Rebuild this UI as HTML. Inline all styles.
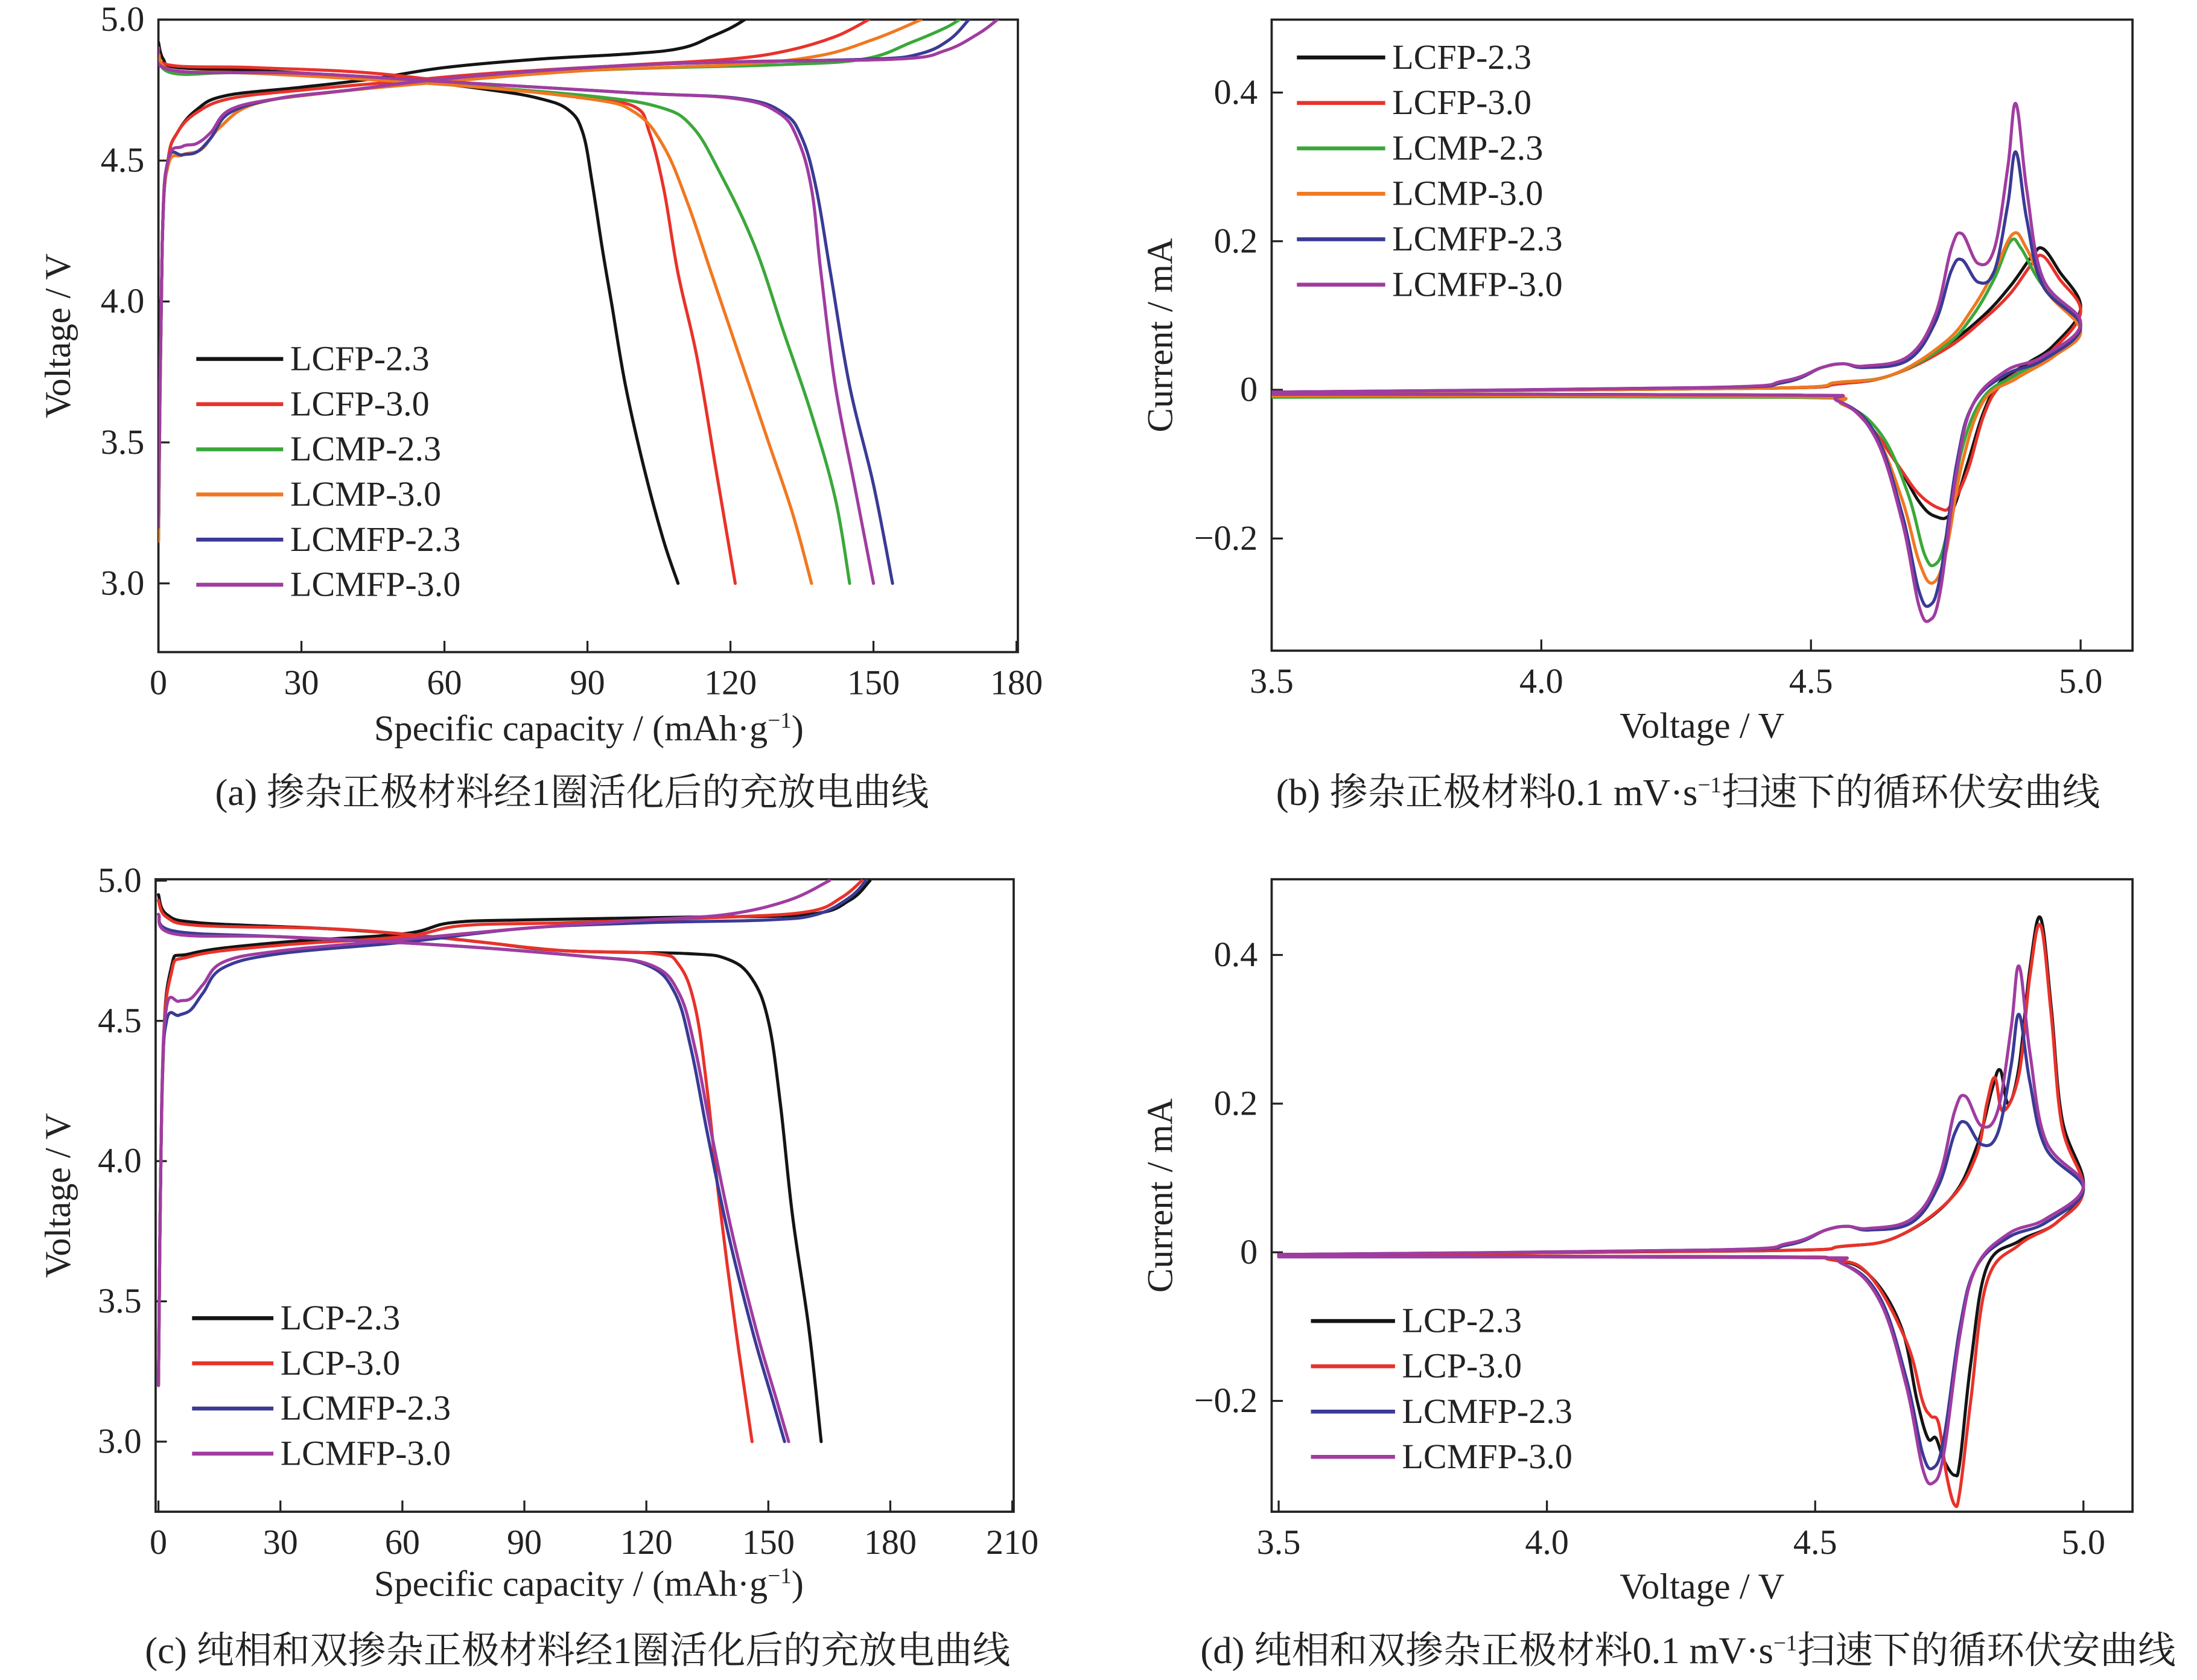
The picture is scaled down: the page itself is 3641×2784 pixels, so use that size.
<!DOCTYPE html>
<html><head><meta charset="utf-8">
<style>
html,body{margin:0;padding:0;background:#fff;}
svg{display:block;}
text{font-family:"Liberation Serif","Noto Serif CJK SC",serif;fill:#222;}
</style></head>
<body>
<svg id="fig" xmlns="http://www.w3.org/2000/svg" width="3641" height="2784" viewBox="0 0 1567 1198" preserveAspectRatio="none"></svg>
<script>
// ---------- Panel (a) data: [capacity mAh/g, voltage V] ----------
const aNames = ["LCFP-2.3","LCFP-3.0","LCMP-2.3","LCMP-3.0","LCMFP-2.3","LCMFP-3.0"];
const a_LCFP23_ch = [[0,3.15],[0.8,4.2],[2,4.5],[4,4.6],[8,4.68],[14,4.73],[30,4.76],[45,4.79],[60,4.83],[80,4.86],[100,4.88],[110,4.9],[116,4.94],[120,4.97],[123,5.0]];
const a_LCFP23_dis = [[0,4.92],[1,4.86],[4,4.83],[20,4.82],[40,4.8],[55,4.78],[70,4.75],[80,4.72],[86,4.68],[89,4.6],[91,4.42],[93,4.2],[95,4.0],[98,3.7],[102,3.4],[106,3.15],[109,3.0]];
const a_LCFP30_ch = [[0,3.15],[0.8,4.2],[2,4.5],[4,4.6],[8,4.67],[15,4.72],[30,4.75],[50,4.78],[70,4.81],[100,4.84],[120,4.86],[132,4.89],[142,4.94],[149,5.0]];
const a_LCFP30_dis = [[0,4.9],[2,4.84],[20,4.83],[45,4.81],[70,4.76],[90,4.72],[100,4.69],[103,4.6],[106,4.4],[109,4.1],[113,3.8],[117,3.4],[121,3.0]];
const a_LCMP23_ch = [[0,3.15],[0.8,4.2],[2,4.48],[5,4.52],[9,4.54],[13,4.62],[20,4.7],[35,4.74],[60,4.78],[90,4.82],[130,4.84],[148,4.86],[158,4.92],[165,4.97],[168,5.0]];
const a_LCMP23_dis = [[0,4.88],[3,4.81],[20,4.81],[60,4.77],[90,4.73],[105,4.69],[112,4.62],[118,4.45],[125,4.2],[131,3.9],[137,3.6],[142,3.3],[145,3.0]];
const a_LCMP30_ch = [[0,3.15],[0.8,4.2],[2,4.48],[5,4.52],[9,4.54],[13,4.62],[20,4.7],[35,4.74],[60,4.78],[90,4.82],[120,4.84],[138,4.87],[150,4.93],[160,5.0]];
const a_LCMP30_dis = [[0,4.88],[3,4.82],[20,4.81],[60,4.77],[90,4.72],[100,4.67],[106,4.55],[111,4.35],[116,4.1],[122,3.8],[128,3.5],[133,3.25],[137,3.0]];
const a_LCMFP23_ch = [[0,3.2],[0.8,4.2],[2,4.5],[5,4.52],[8,4.53],[11,4.58],[15,4.67],[25,4.72],[40,4.75],[60,4.79],[90,4.83],[120,4.85],[150,4.86],[160,4.88],[166,4.93],[170,5.0]];
const a_LCMFP23_dis = [[0,4.9],[3,4.82],[30,4.81],[60,4.78],[100,4.74],[122,4.72],[131,4.67],[135,4.58],[138,4.4],[141,4.1],[145,3.7],[150,3.35],[154,3.0]];
const a_LCMFP30_ch = [[0,3.2],[0.8,4.2],[2,4.5],[5,4.55],[8,4.56],[11,4.6],[15,4.68],[25,4.72],[40,4.75],[60,4.79],[90,4.83],[120,4.85],[155,4.86],[165,4.89],[172,4.95],[176,5.0]];
const a_LCMFP30_dis = [[0,4.9],[3,4.82],[30,4.81],[60,4.78],[100,4.74],[121,4.72],[130,4.67],[134,4.58],[137,4.4],[139,4.1],[142,3.7],[146,3.35],[150,3.0]];
const aXTicks = [0,30,60,90,120,150,180];
const aYTicks = [3.0,3.5,4.0,4.5,5.0];

// ---------- Panel (c) data ----------
const cNames = ["LCP-2.3","LCP-3.0","LCMFP-2.3","LCMFP-3.0"];
const c_LCP23_ch = [[0,3.2],[1,4.3],[3,4.68],[8,4.74],[30,4.78],[60,4.81],[72,4.85],[90,4.86],[130,4.87],[160,4.88],[170,4.93],[175,5.0]];
const c_LCP23_dis = [[0,4.95],[2,4.88],[10,4.85],[40,4.83],[60,4.81],[80,4.78],[100,4.75],[130,4.74],[140,4.72],[146,4.65],[150,4.5],[153,4.2],[156,3.8],[160,3.4],[163,3.0]];
const c_LCP30_ch = [[0,3.2],[1,4.3],[3,4.66],[8,4.73],[30,4.77],[60,4.8],[75,4.84],[100,4.85],[140,4.87],[160,4.89],[168,4.94],[173,5.0]];
const c_LCP30_dis = [[0,4.93],[2,4.87],[10,4.84],[40,4.83],[60,4.81],[80,4.78],[100,4.75],[122,4.74],[128,4.7],[132,4.55],[135,4.25],[138,3.85],[142,3.4],[146,3.0]];
const c_LCMFP23_ch = [[0,3.2],[0.8,4.2],[2,4.5],[5,4.52],[8,4.54],[11,4.6],[16,4.69],[30,4.74],[60,4.78],[90,4.83],[120,4.85],[150,4.86],[162,4.88],[170,4.94],[174,5.0]];
const c_LCMFP23_dis = [[0,4.88],[4,4.82],[30,4.8],[70,4.77],[105,4.73],[120,4.7],[127,4.6],[131,4.4],[135,4.1],[140,3.75],[146,3.4],[151,3.15],[154,3.0]];
const c_LCMFP30_ch = [[0,3.2],[0.8,4.2],[2,4.55],[5,4.57],[8,4.58],[11,4.63],[16,4.71],[30,4.75],[60,4.79],[90,4.83],[120,4.86],[140,4.88],[155,4.93],[165,5.0]];
const c_LCMFP30_dis = [[0,4.88],[4,4.81],[30,4.8],[70,4.77],[105,4.73],[121,4.7],[128,4.6],[132,4.4],[136,4.1],[141,3.75],[147,3.4],[152,3.15],[155,3.0]];
const cXTicks = [0,30,60,90,120,150,180,210];
const cYTicks = [3.0,3.5,4.0,4.5,5.0];

// ---------- Panel (b) data: [voltage V, current mA] loop ----------
const b_LCFP23 = [[3.5,-0.003],[4.4,0.002],[4.55,0.008],[4.65,0.02],[4.75,0.06],[4.82,0.1],[4.87,0.14],[4.91,0.18],[4.93,0.19],[4.96,0.16],[5.0,0.11],[4.95,0.06],[4.9,0.035],[4.85,0.01],[4.82,-0.03],[4.79,-0.1],[4.76,-0.165],[4.73,-0.17],[4.7,-0.15],[4.66,-0.1],[4.61,-0.05],[4.55,-0.015],[4.45,-0.007],[3.5,-0.006]];
const b_LCFP30 = [[3.5,-0.003],[4.4,0.002],[4.55,0.008],[4.65,0.02],[4.75,0.055],[4.82,0.095],[4.87,0.13],[4.91,0.17],[4.93,0.18],[4.96,0.15],[5.0,0.105],[4.95,0.055],[4.9,0.03],[4.85,0.005],[4.82,-0.035],[4.79,-0.11],[4.76,-0.155],[4.74,-0.16],[4.7,-0.14],[4.66,-0.1],[4.61,-0.05],[4.55,-0.015],[4.45,-0.007],[3.5,-0.006]];
const b_LCMP23 = [[3.5,-0.003],[4.4,0.002],[4.55,0.01],[4.65,0.02],[4.75,0.06],[4.8,0.1],[4.84,0.15],[4.87,0.2],[4.89,0.19],[4.93,0.14],[5.0,0.09],[4.95,0.05],[4.88,0.02],[4.82,-0.01],[4.78,-0.08],[4.75,-0.2],[4.73,-0.235],[4.71,-0.22],[4.68,-0.14],[4.63,-0.06],[4.56,-0.02],[4.45,-0.01],[3.5,-0.01]];
const b_LCMP30 = [[3.5,-0.003],[4.4,0.002],[4.55,0.01],[4.65,0.02],[4.75,0.065],[4.8,0.11],[4.84,0.16],[4.875,0.21],[4.9,0.19],[4.94,0.13],[5.0,0.08],[4.95,0.045],[4.88,0.015],[4.82,-0.015],[4.78,-0.1],[4.75,-0.22],[4.725,-0.26],[4.7,-0.23],[4.67,-0.15],[4.62,-0.06],[4.56,-0.02],[4.45,-0.009],[3.5,-0.008]];
const b_LCMFP23 = [[3.5,-0.003],[4.3,0.003],[4.45,0.01],[4.52,0.03],[4.56,0.035],[4.6,0.03],[4.68,0.04],[4.73,0.09],[4.76,0.16],[4.78,0.175],[4.81,0.145],[4.84,0.16],[4.865,0.25],[4.88,0.32],[4.9,0.23],[4.93,0.14],[5.0,0.085],[4.93,0.04],[4.86,0.02],[4.8,-0.02],[4.77,-0.1],[4.74,-0.25],[4.72,-0.29],[4.7,-0.27],[4.67,-0.17],[4.62,-0.06],[4.55,-0.015],[4.45,-0.007],[3.5,-0.006]];
const b_LCMFP30 = [[3.5,-0.003],[4.3,0.003],[4.45,0.012],[4.52,0.03],[4.56,0.035],[4.6,0.032],[4.68,0.045],[4.73,0.1],[4.76,0.19],[4.78,0.21],[4.81,0.17],[4.84,0.19],[4.865,0.3],[4.88,0.385],[4.9,0.27],[4.93,0.15],[5.0,0.09],[4.93,0.045],[4.86,0.025],[4.8,-0.02],[4.77,-0.11],[4.74,-0.27],[4.72,-0.31],[4.7,-0.29],[4.67,-0.18],[4.62,-0.065],[4.55,-0.015],[4.45,-0.007],[3.5,-0.006]];
const bXTicks = [3.5,4.0,4.5,5.0];
const bYTicks = [-0.2,0,0.2,0.4];

// ---------- Panel (d) data ----------
const d_LCP23 = [[3.5,-0.003],[4.4,0.002],[4.55,0.008],[4.65,0.02],[4.75,0.07],[4.8,0.14],[4.83,0.22],[4.845,0.245],[4.86,0.2],[4.88,0.25],[4.9,0.38],[4.92,0.45],[4.94,0.33],[4.96,0.18],[5.0,0.09],[4.95,0.04],[4.88,0.015],[4.82,-0.02],[4.79,-0.15],[4.77,-0.28],[4.76,-0.3],[4.74,-0.28],[4.725,-0.25],[4.71,-0.25],[4.69,-0.2],[4.66,-0.1],[4.6,-0.03],[4.53,-0.01],[4.4,-0.006],[3.5,-0.005]];
const d_LCP30 = [[3.5,-0.003],[4.4,0.002],[4.55,0.008],[4.65,0.02],[4.75,0.07],[4.8,0.13],[4.82,0.2],[4.835,0.235],[4.85,0.19],[4.88,0.24],[4.9,0.37],[4.92,0.44],[4.94,0.32],[4.96,0.17],[5.0,0.085],[4.95,0.04],[4.88,0.01],[4.82,-0.04],[4.79,-0.2],[4.77,-0.32],[4.76,-0.34],[4.745,-0.3],[4.73,-0.23],[4.715,-0.22],[4.7,-0.2],[4.67,-0.12],[4.6,-0.03],[4.53,-0.01],[4.4,-0.006],[3.5,-0.005]];
const d_LCMFP23 = b_LCMFP23;
const d_LCMFP30 = b_LCMFP30;
const dXTicks = [3.5,4.0,4.5,5.0];
const dYTicks = [-0.2,0,0.2,0.4];

const NS="http://www.w3.org/2000/svg";
const svg=document.getElementById('fig');
const COL={black:"#141414",red:"#e8322a",green:"#3aa83a",orange:"#f07820",blue:"#3a3a96",purple:"#a03ca0"};
function el(tag,attrs,parent){const e=document.createElementNS(NS,tag);for(const k in attrs)e.setAttribute(k,attrs[k]);(parent||svg).appendChild(e);return e;}
function txt(s,x,y,size,anchor,parent){const t=el('text',{x:x,y:y,'font-size':size,'text-anchor':anchor||'middle'},parent);t.textContent=s;return t;}
function fmt(v){if(Math.abs(v)<1e-9)return "0";return (v<0?"\u2212":"")+Math.abs(v).toFixed(1);}
function smooth(pts){
  let d='M'+pts[0][0].toFixed(1)+' '+pts[0][1].toFixed(1);
  for(let i=0;i<pts.length-1;i++){
    const p0=pts[Math.max(0,i-1)],p1=pts[i],p2=pts[i+1],p3=pts[Math.min(pts.length-1,i+2)];
    const t=0.18;
    const c1=[p1[0]+(p2[0]-p0[0])*t,p1[1]+(p2[1]-p0[1])*t];
    const c2=[p2[0]-(p3[0]-p1[0])*t,p2[1]-(p3[1]-p1[1])*t];
    d+=' C'+c1[0].toFixed(1)+' '+c1[1].toFixed(1)+' '+c2[0].toFixed(1)+' '+c2[1].toFixed(1)+' '+p2[0].toFixed(1)+' '+p2[1].toFixed(1);
  }
  return d;
}

function panel(p){
  const g=el('g',{});
  
  
  const sx=v=>p.x0+(v-p.xa)*(p.x1-p.x0)/(p.xb-p.xa);
  const sy=v=>p.y0+(v-p.ya)*(p.y1-p.y0)/(p.yb-p.ya);
  const box=el('rect',{x:p.L,y:p.T,width:p.R-p.L,height:p.B-p.T,fill:'none',stroke:'#222','stroke-width':1.6},g);
  
  
  p.xt.forEach(v=>{
    el('line',{x1:sx(v),x2:sx(v),y1:p.B,y2:p.B-8,stroke:'#222','stroke-width':1.4},g);
    const t=txt(p.xfmt(v),sx(v),p.B+30,25,'middle',g);
    
    
  });
  p.yt.forEach(v=>{
    el('line',{x1:p.L,x2:p.L+8,y1:sy(v),y2:sy(v),stroke:'#222','stroke-width':1.4},g);
    const t=txt(p.yfmt(v),p.L-10,sy(v)+8,25,'end',g);
    
    
  });
  const clip='clip'+p.name;
  const cp=el('clipPath',{id:clip},g);el('rect',{x:p.L,y:p.T,width:p.R-p.L,height:p.B-p.T},cp);
  const cg=el('g',{'clip-path':'url(#'+clip+')'},g);
  p.series.forEach(s=>{
    s.curves.forEach(c=>{
      const d=smooth(c.map(q=>[sx(q[0]),sy(q[1])]));
      const path=el('path',{d:d,fill:'none',stroke:s.color,'stroke-width':2.2,'stroke-linejoin':'round','stroke-linecap':'round'},cg);
      
      
    });
  });
  p.series.forEach((s,i)=>{
    const y=p.legY+i*p.legDy;
    const lg=el('g',{},g);
    
    
    el('line',{x1:p.legX,x2:p.legX+p.legW,y1:y,y2:y,stroke:s.color,'stroke-width':2.8},lg);
    txt(s.label,p.legX+p.legW+5,y+8,25,'start',lg);
  });
  const xt=txt(p.xlabel,(p.L+p.R)/2,p.B+62,26,'middle',g);
  
  
  const yt=txt(p.ylabel,0,0,26,'middle',g);
  yt.setAttribute('transform','translate('+p.ylx+','+((p.T+p.B)/2)+') rotate(-90)');
  
  
  const cap=txt('',p.capX,p.capY,27,'middle',g);
  cap.innerHTML=p.caption;
  
  
}
const capFmt=v=>String(v);
const vFmt=v=>v.toFixed(1);
const capLabel='Specific capacity / (mAh·g<tspan dy="-9" font-size="16">−1</tspan><tspan dy="9">)</tspan>';

const aCols=[COL.black,COL.red,COL.green,COL.orange,COL.blue,COL.purple];
const aCurves=[[a_LCFP23_ch,a_LCFP23_dis],[a_LCFP30_ch,a_LCFP30_dis],[a_LCMP23_ch,a_LCMP23_dis],[a_LCMP30_ch,a_LCMP30_dis],[a_LCMFP23_ch,a_LCMFP23_dis],[a_LCMFP30_ch,a_LCMFP30_dis]];
panel({name:'panel-a',L:113,R:726,T:14,B:465,x0:113,x1:725,xa:0,xb:180,y0:416,y1:14,ya:3.0,yb:5.0,xt:aXTicks,yt:aYTicks,xfmt:capFmt,yfmt:vFmt,
  series:aNames.map((n,i)=>({label:n,color:aCols[i],curves:aCurves[i]})),legX:140,legW:62,legY:256,legDy:32.2,
  xlabel:'',ylabel:'Voltage / V',ylx:50,capX:408,capY:574,caption:'(a) 掺杂正极材料经1圈活化后的充放电曲线'});
const bCurves=[b_LCFP23,b_LCFP30,b_LCMP23,b_LCMP30,b_LCMFP23,b_LCMFP30];
panel({name:'panel-b',L:907,R:1521,T:14,B:464,x0:907,x1:1484,xa:3.5,xb:5.0,y0:278,y1:66,ya:0,yb:0.4,xt:bXTicks,yt:bYTicks,xfmt:vFmt,yfmt:fmt,
  series:aNames.map((n,i)=>({label:n,color:aCols[i],curves:[bCurves[i]]})),legX:925,legW:63,legY:41,legDy:32.4,
  xlabel:'Voltage / V',ylabel:'Current / mA',ylx:836,capX:1204,capY:574,caption:'(b) 掺杂正极材料0.1 mV·s<tspan dy="-9" font-size="16">−1</tspan><tspan dy="9">扫速下的循环伏安曲线</tspan>'});
const cCols=[COL.black,COL.red,COL.blue,COL.purple];
const cCurves=[[c_LCP23_ch,c_LCP23_dis],[c_LCP30_ch,c_LCP30_dis],[c_LCMFP23_ch,c_LCMFP23_dis],[c_LCMFP30_ch,c_LCMFP30_dis]];
panel({name:'panel-c',L:111,R:723,T:627,B:1078,x0:113,x1:722,xa:0,xb:210,y0:1028,y1:628,ya:3.0,yb:5.0,xt:cXTicks,yt:cYTicks,xfmt:capFmt,yfmt:vFmt,
  series:cNames.map((n,i)=>({label:n,color:cCols[i],curves:cCurves[i]})),legX:137,legW:58,legY:940,legDy:32.2,
  xlabel:'',ylabel:'Voltage / V',ylx:50,capX:412,capY:1186,caption:'(c) 纯相和双掺杂正极材料经1圈活化后的充放电曲线'});
const dCurves=[d_LCP23,d_LCP30,d_LCMFP23,d_LCMFP30];
panel({name:'panel-d',L:907,R:1521,T:627,B:1078,x0:912,x1:1486,xa:3.5,xb:5.0,y0:893,y1:681,ya:0,yb:0.4,xt:dXTicks,yt:dYTicks,xfmt:vFmt,yfmt:fmt,
  series:cNames.map((n,i)=>({label:n,color:cCols[i],curves:[dCurves[i]]})),legX:935,legW:60,legY:942,legDy:32.3,
  xlabel:'Voltage / V',ylabel:'Current / mA',ylx:836,capX:1204,capY:1186,caption:'(d) 纯相和双掺杂正极材料0.1 mV·s<tspan dy="-9" font-size="16">−1</tspan><tspan dy="9">扫速下的循环伏安曲线</tspan>'});
[[420,528],[420,1138]].forEach(pos=>{
  const t=txt('',pos[0],pos[1],26,'middle');
  t.innerHTML=capLabel;
  
  
});
</script>
</body></html>
